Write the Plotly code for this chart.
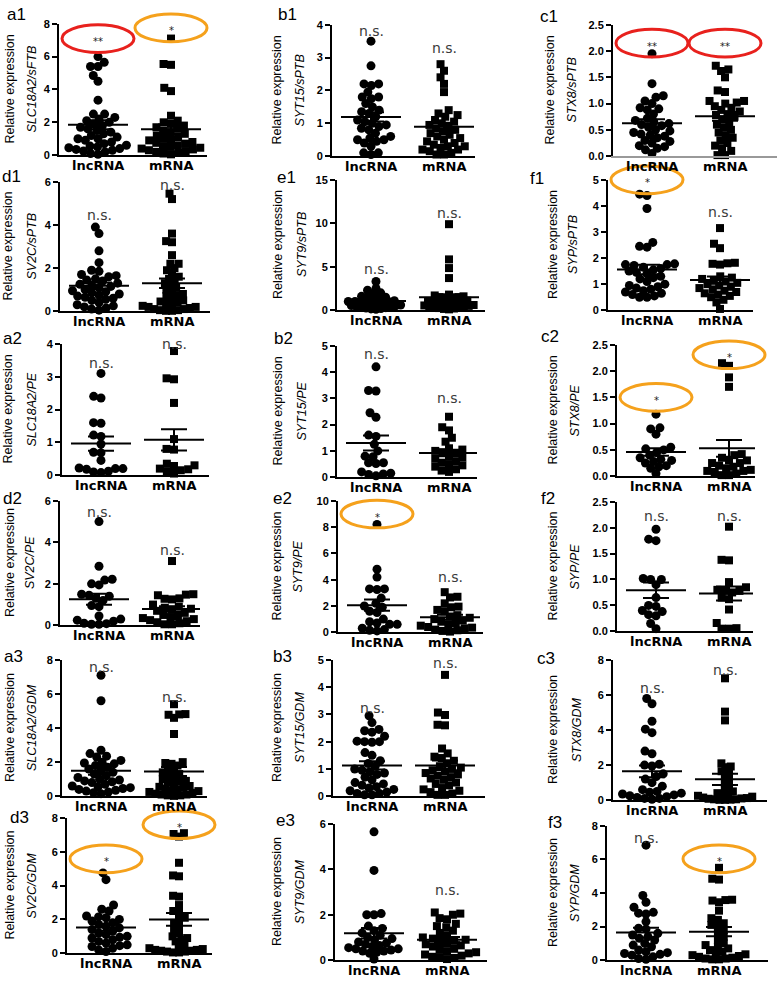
import numpy as np
import plotly.graph_objects as go

W, H = 777, 981
GROUPS = ["lncRNA", "mRNA"]

# ---------------- data (relative expression values) ----------------
a1_lnc = [6.0, 5.4, 5.4, 5.65, 4.85, 4.5, 3.35, 2.5, 2.5, 2.3, 2.2, 2.1, 2.0, 1.9, 1.8, 1.7, 1.6, 1.5, 1.4, 1.3,
          1.2, 1.1, 1.0, 1.0, 0.9, 0.8, 0.7, 0.6, 0.55, 0.5, 0.45, 0.4, 0.35, 0.3, 0.25, 0.2, 0.1, 0.05]
a1_mrna = [7.1, 5.5, 5.55, 4.1, 3.9, 2.4, 2.1, 2.0, 1.9, 1.8, 1.7, 1.6, 1.5, 1.4, 1.3, 1.2, 1.1, 1.0, 0.95, 0.9,
           0.8, 0.75, 0.7, 0.6, 0.55, 0.5, 0.45, 0.4, 0.35, 0.3, 0.25, 0.2, 0.15, 0.1, 0.05]
b1_lnc = [3.5, 2.75, 2.2, 2.2, 2.15, 1.95, 1.8, 1.8, 1.75, 1.6, 1.5, 1.4, 1.35, 1.3, 1.2, 1.1, 1.05, 1.0, 0.95,
          0.9, 0.85, 0.8, 0.7, 0.6, 0.55, 0.5, 0.5, 0.45, 0.4, 0.3, 0.1, 0.1, 0.05]
b1_mrna = [2.8, 2.6, 2.4, 2.2, 1.95, 1.4, 1.3, 1.25, 1.2, 1.1, 1.05, 1.0, 0.95, 0.9, 0.85, 0.8, 0.75, 0.7, 0.65,
           0.6, 0.55, 0.5, 0.45, 0.4, 0.35, 0.3, 0.3, 0.25, 0.2, 0.2, 0.15, 0.1, 0.05, 0.05]
c1_lnc = [1.95, 1.38, 1.15, 1.12, 1.05, 1.0, 0.92, 0.9, 0.88, 0.8, 0.72, 0.68, 0.65, 0.62, 0.6, 0.58, 0.55, 0.5,
          0.48, 0.45, 0.42, 0.4, 0.38, 0.35, 0.3, 0.28, 0.25, 0.2, 0.18, 0.15, 0.12, 0.05]
c1_mrna = [1.72, 1.65, 1.62, 1.5, 1.25, 1.22, 1.05, 1.05, 1.02, 1.0, 0.95, 0.92, 0.88, 0.85, 0.8, 0.78, 0.75, 0.7,
           0.65, 0.6, 0.55, 0.5, 0.45, 0.4, 0.35, 0.3, 0.25, 0.2, 0.15, 0.1, 0.02, 0.02]
d1_lnc = [3.9, 3.6, 2.8, 2.25, 1.9, 1.85, 1.7, 1.65, 1.6, 1.5, 1.45, 1.4, 1.3, 1.25, 1.2, 1.15, 1.1, 1.0, 0.95,
          0.9, 0.85, 0.8, 0.75, 0.7, 0.65, 0.6, 0.55, 0.5, 0.4, 0.3, 0.25, 0.2, 0.15, 0.1, 0.05]
d1_mrna = [5.45, 5.2, 3.6, 3.25, 3.2, 2.6, 2.2, 2.2, 2.0, 1.9, 1.75, 1.6, 1.5, 1.4, 1.3, 1.2, 1.1, 1.0, 0.9, 0.8,
           0.75, 0.7, 0.6, 0.5, 0.45, 0.4, 0.35, 0.3, 0.25, 0.2, 0.2, 0.15, 0.1, 0.1, 0.05, 0.05, 0.02, 0.02]
e1_lnc = [3.3, 2.5, 2.3, 2.0, 1.9, 1.8, 1.6, 1.5, 1.4, 1.3, 1.25, 1.2, 1.1, 1.0, 1.0, 0.95, 0.9, 0.85, 0.8, 0.75,
          0.7, 0.65, 0.6, 0.55, 0.5, 0.45, 0.4, 0.35, 0.3, 0.25, 0.2, 0.15, 0.1]
e1_mrna = [9.9, 5.85, 4.85, 3.7, 1.8, 1.7, 1.6, 1.5, 1.5, 1.4, 1.3, 1.2, 1.1, 1.0, 0.95, 0.9, 0.85, 0.8, 0.75, 0.7,
           0.65, 0.6, 0.55, 0.5, 0.45, 0.4, 0.35, 0.3, 0.25, 0.2, 0.15, 0.1]
f1_lnc = [4.45, 4.4, 3.9, 2.6, 2.45, 2.42, 1.78, 1.75, 1.75, 1.72, 1.65, 1.6, 1.55, 1.5, 1.45, 1.4, 1.3, 1.25, 1.2,
          1.1, 1.0, 0.95, 0.9, 0.85, 0.8, 0.75, 0.7, 0.65, 0.6, 0.55, 0.5, 0.5]
f1_mrna = [3.15, 2.55, 2.38, 1.82, 1.8, 1.78, 1.75, 1.3, 1.25, 1.2, 1.15, 1.1, 1.05, 1.0, 0.95, 0.9, 0.85, 0.8,
           0.75, 0.7, 0.65, 0.6, 0.55, 0.5, 0.4, 0.3, 0.05]
a2_lnc = [3.1, 2.4, 2.35, 1.6, 1.58, 1.22, 1.18, 0.95, 0.7, 0.68, 0.45, 0.22, 0.2, 0.2, 0.18, 0.12, 0.1, 0.08]
a2_mrna = [3.78, 2.95, 2.92, 2.2, 1.1, 0.8, 0.78, 0.35, 0.3, 0.28, 0.2, 0.18, 0.15, 0.12, 0.05]
b2_lnc = [4.2, 3.3, 3.28, 2.45, 2.28, 1.6, 1.55, 1.25, 1.0, 0.8, 0.78, 0.55, 0.55, 0.52, 0.2, 0.15, 0.12, 0.1, 0.05]
b2_mrna = [2.3, 1.9, 1.78, 1.5, 1.35, 1.1, 1.05, 1.0, 0.95, 0.9, 0.8, 0.75, 0.7, 0.6, 0.55, 0.5, 0.45, 0.4, 0.3,
           0.25, 0.2]
c2_lnc = [1.18, 0.92, 0.9, 0.8, 0.55, 0.52, 0.5, 0.45, 0.4, 0.35, 0.32, 0.3, 0.28, 0.25, 0.2, 0.18, 0.15, 0.05]
c2_mrna = [2.15, 2.1, 1.88, 1.7, 0.42, 0.4, 0.35, 0.3, 0.3, 0.25, 0.25, 0.2, 0.18, 0.15, 0.12, 0.1, 0.1, 0.08,
           0.05, 0.02, 0.02]
d2_lnc = [5.0, 2.85, 2.22, 2.18, 2.0, 1.95, 1.5, 1.45, 1.4, 1.3, 1.2, 0.95, 0.9, 0.45, 0.3, 0.25, 0.2, 0.1, 0.08,
          0.05, 0.05]
d2_mrna = [3.1, 1.5, 1.48, 1.45, 1.3, 1.28, 1.25, 1.0, 0.9, 0.85, 0.8, 0.75, 0.7, 0.6, 0.5, 0.45, 0.4, 0.35, 0.3,
           0.25, 0.2, 0.15, 0.1, 0.05, 0.05]
e2_lnc = [8.2, 4.8, 4.2, 3.3, 3.3, 3.25, 2.6, 2.2, 2.0, 1.9, 1.6, 1.5, 1.0, 0.8, 0.7, 0.6, 0.6, 0.3, 0.2, 0.15, 0.1]
e2_mrna = [3.05, 2.7, 2.65, 2.2, 1.95, 1.9, 1.7, 1.6, 1.3, 1.2, 1.1, 1.0, 0.9, 0.8, 0.7, 0.6, 0.5, 0.4, 0.35, 0.3,
           0.2, 0.15, 0.1, 0.05]
f2_lnc = [1.97, 1.78, 1.75, 1.02, 1.0, 1.0, 0.9, 0.65, 0.5, 0.48, 0.4, 0.38, 0.32, 0.3, 0.15, 0.05]
f2_mrna = [2.02, 1.38, 1.37, 0.95, 0.85, 0.8, 0.78, 0.78, 0.75, 0.65, 0.62, 0.42, 0.16, 0.06, 0.05, 0.05]
a3_lnc = [7.1, 5.6, 2.7, 2.5, 2.35, 2.3, 2.1, 2.0, 1.95, 1.9, 1.8, 1.7, 1.6, 1.5, 1.4, 1.3, 1.2, 1.1, 1.0, 0.95,
          0.9, 0.85, 0.8, 0.7, 0.6, 0.55, 0.5, 0.45, 0.4, 0.35, 0.3, 0.25, 0.2, 0.15]
a3_mrna = [5.4, 4.82, 4.8, 4.78, 4.6, 3.65, 2.0, 1.95, 1.9, 1.8, 1.6, 1.5, 1.4, 1.3, 1.2, 1.1, 1.0, 0.9, 0.85,
           0.8, 0.7, 0.6, 0.55, 0.5, 0.45, 0.4, 0.35, 0.3, 0.25, 0.2, 0.15, 0.1, 0.1, 0.05, 0.05, 0.02]
b3_lnc = [2.95, 2.7, 2.45, 2.4, 2.35, 2.2, 2.02, 2.0, 2.0, 1.98, 1.6, 1.5, 1.3, 1.2, 1.1, 1.0, 0.95, 0.9, 0.85,
          0.8, 0.7, 0.6, 0.5, 0.45, 0.4, 0.35, 0.3, 0.25, 0.2, 0.15, 0.1, 0.1, 0.05, 0.05]
b3_mrna = [4.45, 3.07, 2.98, 2.62, 2.6, 1.75, 1.57, 1.45, 1.4, 1.3, 1.2, 1.1, 1.05, 1.0, 0.95, 0.9, 0.85, 0.8,
           0.75, 0.7, 0.65, 0.6, 0.5, 0.45, 0.4, 0.3, 0.25, 0.2, 0.15, 0.1, 0.05, 0.05]
c3_lnc = [5.8, 5.5, 4.5, 4.05, 3.85, 2.8, 2.65, 2.05, 2.0, 1.95, 1.5, 1.35, 1.2, 1.0, 0.8, 0.6, 0.5, 0.45, 0.4,
          0.35, 0.3, 0.25, 0.2, 0.15, 0.1, 0.1, 0.05]
c3_mrna = [6.95, 5.05, 4.55, 2.1, 1.92, 1.88, 1.65, 1.6, 1.4, 1.2, 1.0, 0.8, 0.6, 0.5, 0.4, 0.35, 0.3, 0.25, 0.2,
           0.15, 0.12, 0.1, 0.08, 0.05, 0.05, 0.03, 0.02, 0.02]
d3_lnc = [4.75, 4.35, 2.85, 2.6, 2.5, 2.2, 2.15, 2.1, 2.0, 1.9, 1.8, 1.7, 1.6, 1.5, 1.4, 1.3, 1.2, 1.1, 1.0, 0.95,
          0.9, 0.8, 0.7, 0.6, 0.5, 0.45, 0.4, 0.3, 0.2, 0.1]
d3_mrna = [7.1, 7.05, 6.9, 5.35, 4.6, 4.55, 3.4, 3.35, 2.85, 2.5, 2.4, 2.1, 2.0, 1.8, 1.6, 1.4, 1.2, 1.0, 0.9, 0.8,
           0.7, 0.5, 0.4, 0.3, 0.25, 0.2, 0.2, 0.15, 0.15, 0.1, 0.1, 0.05, 0.05]
e3_lnc = [5.65, 3.95, 2.05, 2.0, 2.0, 1.5, 1.4, 1.3, 1.2, 1.1, 1.0, 0.95, 0.9, 0.8, 0.75, 0.7, 0.65, 0.6, 0.55,
          0.5, 0.5, 0.45, 0.4, 0.4, 0.35, 0.3, 0.05]
e3_mrna = [2.1, 2.05, 2.0, 1.85, 1.8, 1.6, 1.5, 1.45, 1.3, 1.2, 1.1, 1.0, 0.95, 0.9, 0.85, 0.8, 0.75, 0.7, 0.65,
           0.6, 0.5, 0.45, 0.4, 0.35, 0.3, 0.25, 0.2, 0.15, 0.1, 0.1, 0.05]
f3_lnc = [6.85, 3.85, 3.45, 3.15, 2.85, 2.8, 2.75, 2.3, 1.9, 1.85, 1.6, 1.5, 1.4, 1.3, 1.2, 1.0, 0.9, 0.8, 0.6,
          0.5, 0.45, 0.4, 0.35, 0.3, 0.2, 0.1, 0.05]
f3_mrna = [5.5, 4.85, 4.8, 3.6, 3.58, 3.55, 3.45, 2.95, 2.5, 2.4, 2.2, 2.1, 2.0, 1.8, 1.6, 1.4, 1.2, 1.0, 0.9,
           0.8, 0.7, 0.6, 0.5, 0.4, 0.35, 0.3, 0.25, 0.2, 0.15, 0.1, 0.1, 0.05, 0.05]

# panel names, normaliser labels, axis maxima / steps
panel_names = ["a1", "b1", "c1", "d1", "e1", "f1", "a2", "b2", "c2", "d2", "e2", "f2",
               "a3", "b3", "c3", "d3", "e3", "f3"]
gene_labels = ["SLC18A2/sFTB", "SYT15/sPTB", "STX8/sPTB", "SV2C/sPTB", "SYT9/sPTB", "SYP/sPTB",
               "SLC18A2/PE", "SYT15/PE", "STX8/PE", "SV2C/PE", "SYT9/PE", "SYP/PE",
               "SLC18A2/GDM", "SYT15/GDM", "STX8/GDM", "SV2C/GDM", "SYT9/GDM", "SYP/GDM"]
y_max = [8, 4, 2.5, 6, 15, 5, 4, 5, 2.5, 6, 10, 2.5, 8, 5, 8, 8, 6, 8]
y_step = [2, 1, 0.5, 2, 5, 1, 1, 1, 0.5, 2, 2, 0.5, 2, 1, 2, 2, 2, 2]
lnc_values = [a1_lnc, b1_lnc, c1_lnc, d1_lnc, e1_lnc, f1_lnc, a2_lnc, b2_lnc, c2_lnc, d2_lnc, e2_lnc, f2_lnc,
              a3_lnc, b3_lnc, c3_lnc, d3_lnc, e3_lnc, f3_lnc]
mrna_values = [a1_mrna, b1_mrna, c1_mrna, d1_mrna, e1_mrna, f1_mrna, a2_mrna, b2_mrna, c2_mrna, d2_mrna,
               e2_mrna, f2_mrna, a3_mrna, b3_mrna, c3_mrna, d3_mrna, e3_mrna, f3_mrna]
# significance label text for (lncRNA, mRNA) and the value level where it is written
sig_text = [("**", "*"), ("n.s.", "n.s."), ("**", "**"), ("n.s.", "n.s."), ("n.s.", "n.s."), ("*", "n.s."),
            ("n.s.", "n.s."), ("n.s.", "n.s."), ("*", "*"), ("n.s.", "n.s."), ("*", "n.s."), ("n.s.", "n.s."),
            ("n.s.", "n.s."), ("n.s.", "n.s."), ("n.s.", "n.s."), ("*", "*"), ("n.s.", "n.s."), ("n.s.", "*")]
sig_level = [(7.1, 7.75), (3.8, 3.3), (2.15, 2.15), (4.45, 5.85), (4.7, 11.2), (5.0, 3.77),
             (3.43, 3.98), (4.69, 3.0), (1.5, 2.31), (5.48, 3.63), (9.0, 4.2), (2.22, 2.22),
             (7.6, 5.82), (3.25, 4.9), (6.4, 7.43), (5.58, 7.6), (6.1, 3.08), (7.3, 6.03)]

# ---------------- layout (pixel boxes of each plot area etc.) ----------------
RED = "#e8211d"
ORANGE = "#f5a11c"
ring_colors = [(RED, ORANGE), (None, None), (RED, RED), (None, None), (None, None), (ORANGE, None),
               (None, None), (None, None), (ORANGE, ORANGE), (None, None), (ORANGE, None), (None, None),
               (None, None), (None, None), (None, None), (ORANGE, ORANGE), (None, None), (None, ORANGE)]
# (x_left, x_right, y_top, y_bottom) in pixels
boxes = [(59, 207, 18, 151), (332, 475, 19, 152), (613, 777, 19, 152),
         (60, 210, 178, 309), (337, 485, 176, 308), (608, 753, 176, 308),
         (62, 209, 342, 475), (337, 477, 344, 477), (617, 755, 343, 476),
         (60, 200, 501, 627), (338, 483, 501, 634), (617, 753, 502, 633),
         (62, 207, 662, 800), (333, 485, 662, 800), (613, 767, 662, 804),
         (67, 212, 822, 959), (335, 487, 828, 966), (607, 768, 830, 966)]
label_pos = [(16, 9), (287, 9), (549, 11), (11, 173), (286, 174), (537, 175),
             (12, 337), (283, 337), (550, 335), (12, 499), (282, 499), (548, 499),
             (13, 659), (282, 659), (546, 661), (19, 822), (285, 825), (555, 827)]
title_x = [(10, 32), (277, 300), (550, 572), (8, 32), (278, 302), (553, 573),
           (8, 32), (278, 302), (553, 575), (10, 30), (277, 298), (553, 575),
           (10, 32), (277, 300), (553, 577), (10, 32), (277, 300), (553, 575)]

PX_PER_CAT = 73.0
CAT_OFFSET = 39.0
MEAN_HALF = 30.0
SWARM_LIMIT = 30.0
DOT = 9
SQ = 8


def swarm(vals, ppu, diam):
    ys = np.asarray(vals, dtype=float) * ppu
    xs = np.zeros(len(ys))
    placed = []
    for i in np.argsort(ys):
        y = ys[i]
        iv = []
        for xj, yj in placed:
            dy = abs(y - yj)
            if dy < diam:
                dx = np.sqrt(diam ** 2 - dy ** 2)
                iv.append((xj - dx, xj + dx))
        cands = [0.0] + [a for a, _ in iv] + [b for _, b in iv]
        cands.sort(key=lambda c: (abs(c), c))
        for c in cands:
            if all(not (a + 1e-6 < c < b - 1e-6) for a, b in iv):
                xs[i] = c
                break
        placed.append((xs[i], y))
    return xs


def fitted_swarm(vals, ppu):
    for d in np.arange(7.5, 2.4, -0.25):
        xs = swarm(vals, ppu, d)
        if np.max(np.abs(xs)) <= SWARM_LIMIT:
            return xs
    return np.clip(xs, -SWARM_LIMIT, SWARM_LIMIT)


fig = go.Figure()
annotations = []
shapes = []
layout_axes = {}

TICKFONT = dict(family="Liberation Sans, Arial, sans-serif", size=11, color="black", weight="bold")
CATFONT = dict(family="DejaVu Sans, sans-serif", size=13, color="black", weight="bold")
TITLEFONT = "Liberation Sans, Arial, sans-serif"

for k in range(18):
    n = k + 1
    xs_name = "x" if n == 1 else f"x{n}"
    ys_name = "y" if n == 1 else f"y{n}"
    x0, x1, yt, yb = boxes[k]
    ymax = y_max[k]
    ppu_y = (yb - yt) / ymax
    xr = [-CAT_OFFSET / PX_PER_CAT, (x1 - x0 - CAT_OFFSET) / PX_PER_CAT]

    for g, (vals, sym, size) in enumerate([(lnc_values[k], "circle", DOT), (mrna_values[k], "square", SQ)]):
        jit = fitted_swarm(vals, ppu_y) / PX_PER_CAT
        fig.add_trace(go.Scatter(
            x=g + jit, y=vals, mode="markers", xaxis=xs_name, yaxis=ys_name,
            marker=dict(symbol=sym, size=size, color="black", line=dict(width=0)),
            cliponaxis=False, showlegend=False, hoverinfo="y"))
        arr = np.asarray(vals, dtype=float)
        m = arr.mean()
        sem = arr.std(ddof=1) / np.sqrt(len(arr))
        half = MEAN_HALF / PX_PER_CAT
        fig.add_trace(go.Scatter(
            x=[g - half, g + half], y=[m, m], mode="lines", xaxis=xs_name, yaxis=ys_name,
            line=dict(color="black", width=2), cliponaxis=False, showlegend=False, hoverinfo="skip"))
        fig.add_trace(go.Scatter(
            x=[g], y=[m], mode="markers", xaxis=xs_name, yaxis=ys_name,
            marker=dict(size=1, color="rgba(0,0,0,0)"),
            error_y=dict(type="data", array=[sem], width=13, thickness=2, color="black"),
            cliponaxis=False, showlegend=False, hoverinfo="skip"))

        # category label under the axis
        annotations.append(dict(
            x=g, y=0, xref=xs_name, yref=f"{ys_name} domain", text=GROUPS[g], showarrow=False,
            xanchor="center", yanchor="top", yshift=-1, font=CATFONT))

        # significance text
        txt = sig_text[k][g]
        lvl = sig_level[k][g]
        is_star = txt.startswith("*")
        annotations.append(dict(
            x=g, y=lvl, xref=xs_name, yref=ys_name, text=txt, showarrow=False,
            xanchor="center", yanchor="middle", yshift=-3 if is_star else 0,
            font=dict(family="DejaVu Sans, sans-serif", size=10 if is_star else 14,
                      color="#222" if is_star else "#3a3a3a")))
        col = ring_colors[k][g]
        if col:
            cx = x0 + CAT_OFFSET + g * PX_PER_CAT
            cy = yb - lvl * ppu_y
            shapes.append(dict(type="circle", xref="paper", yref="paper",
                               x0=(cx - 36) / W, x1=(cx + 36) / W,
                               y0=1 - (cy + 14) / H, y1=1 - (cy - 14) / H,
                               line=dict(color=col, width=3), layer="above"))

    key_x = "xaxis" if n == 1 else f"xaxis{n}"
    key_y = "yaxis" if n == 1 else f"yaxis{n}"
    layout_axes[key_x] = dict(
        domain=[x0 / W, x1 / W], anchor=ys_name, range=xr, showticklabels=False,
        showline=True, linecolor="#999999" if n == 3 else "black", linewidth=2, ticks="",
        showgrid=False, zeroline=False, fixedrange=True)
    layout_axes[key_y] = dict(
        domain=[1 - yb / H, 1 - yt / H], anchor=xs_name, range=[0, ymax], tick0=0, dtick=y_step[k],
        tickformat=".1f" if y_step[k] < 1 else "d",
        ticks="outside", ticklen=5, tickwidth=2, tickcolor="black", showline=True, linecolor="black",
        linewidth=2, showgrid=False, zeroline=False, tickfont=TICKFONT, fixedrange=True)

    # panel label
    lx, ly = label_pos[k]
    annotations.append(dict(x=lx / W, y=1 - ly / H, xref="paper", yref="paper", text=panel_names[k],
                            showarrow=False, xanchor="center", yanchor="middle",
                            font=dict(family="Liberation Sans, Arial, sans-serif", size=17, color="black")))
    # y-axis titles (two lines)
    tx1, tx2 = title_x[k]
    cyp = 1 - (yt + yb) / 2 / H
    annotations.append(dict(x=tx1 / W, y=cyp, xref="paper", yref="paper", text="Relative expression",
                            textangle=-90, showarrow=False, xanchor="center", yanchor="middle",
                            font=dict(family=TITLEFONT, size=12.5, color="black")))
    annotations.append(dict(x=tx2 / W, y=cyp, xref="paper", yref="paper", text=f"<i>{gene_labels[k]}</i>",
                            textangle=-90, showarrow=False, xanchor="center", yanchor="middle",
                            font=dict(family=TITLEFONT, size=12.5, color="black")))

fig.update_layout(
    width=W, height=H, autosize=False,
    margin=dict(l=0, r=0, t=0, b=0),
    paper_bgcolor="white", plot_bgcolor="white",
    showlegend=False, annotations=annotations, shapes=shapes,
    **layout_axes)

fig.write_html("out.html", config={"displayModeBar": False},
               post_script="document.body.style.margin='0';document.body.style.overflow='hidden';")
